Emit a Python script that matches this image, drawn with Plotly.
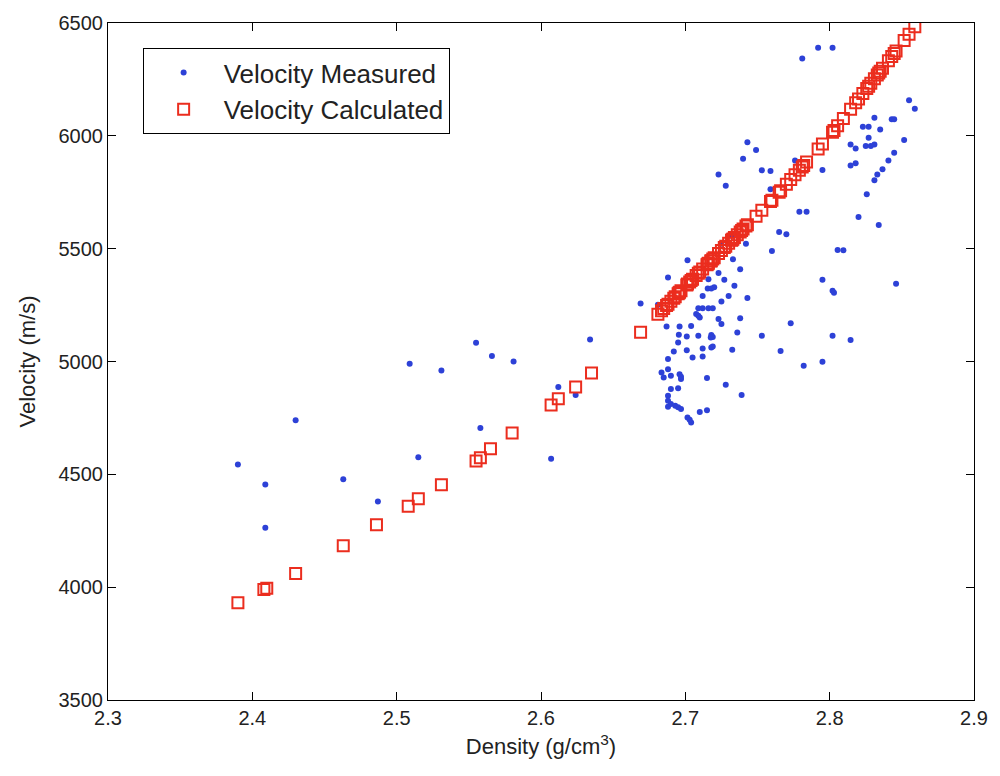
import plotly.graph_objects as go

# ---- data ----
density_measured = [
    2.390, 2.409, 2.409, 2.430, 2.463, 2.487, 2.509, 2.515, 2.531, 2.555,
    2.558, 2.566, 2.581, 2.607, 2.612, 2.624, 2.634,
    2.669, 2.681, 2.709, 2.712, 2.716, 2.719, 2.725, 2.7075, 2.710, 2.709,
    2.723, 2.725, 2.738, 2.687, 2.696, 2.704, 2.6955, 2.701, 2.709, 2.718,
    2.719, 2.7176, 2.736, 2.695, 2.718, 2.719, 2.712, 2.692, 2.701, 2.7325,
    2.712, 2.705, 2.688, 2.6835, 2.685, 2.688, 2.690, 2.696, 2.697, 2.697,
    2.715, 2.728, 2.690, 2.695, 2.688, 2.739, 2.688, 2.688, 2.690, 2.693,
    2.695, 2.697, 2.710, 2.715, 2.7015, 2.704, 2.703,
    2.734, 2.730, 2.743, 2.712, 2.773, 2.753, 2.766, 2.782,
    2.7015, 2.725, 2.732, 2.742, 2.760, 2.765, 2.770, 2.733, 2.738, 2.723,
    2.727, 2.716, 2.7155, 2.718, 2.720, 2.688,
    2.743, 2.749, 2.740, 2.723, 2.728, 2.753, 2.759, 2.759, 2.776, 2.779, 2.784,
    2.781, 2.792, 2.802, 2.855, 2.859, 2.831, 2.843, 2.8447, 2.823, 2.827,
    2.835, 2.827, 2.8145, 2.818, 2.825, 2.8285, 2.831, 2.8516, 2.8447, 2.8407,
    2.8145, 2.818, 2.8366, 2.795, 2.833, 2.831, 2.8257, 2.820,
    2.834, 2.8055, 2.8095, 2.795, 2.802, 2.803, 2.846, 2.802, 2.8145, 2.795,
]
velocity_measured = [
    4544, 4455, 4263, 4740, 4478, 4380, 4990, 4576, 4960, 5083,
    4705, 5024, 5000, 4569, 4887, 4851, 5098,
    5257, 5251, 5236, 5236, 5236, 5236, 5266, 5211, 5195, 5203,
    5188, 5166, 5192, 5155, 5155, 5157, 5118, 5111, 5114, 5117,
    5109, 5106, 5128, 5084, 5062, 5066, 5058, 5044, 5050, 5052,
    5022, 5018, 5011, 4951, 4929, 4966, 4937, 4944, 4922, 4932,
    4927, 4897, 4878, 4882, 4848, 4851, 4826, 4800, 4812, 4804,
    4797, 4789, 4776, 4784, 4752, 4730, 4742,
    5336, 5290, 5281, 5290, 5170, 5114, 5047, 4981,
    5449, 5522, 5558, 5522, 5490, 5574, 5564, 5453, 5409, 5392,
    5362, 5365, 5323, 5323, 5329, 5372,
    5972, 5937, 5898, 5829, 5779, 5847, 5844, 5763, 5891, 5664, 5664,
    6343, 6390, 6390, 6158, 6120, 6080, 6073, 6073, 6040, 6040,
    6028, 5991, 5962, 5944, 5955, 5955, 5962, 5981, 5925, 5891,
    5869, 5878, 5852, 5849, 5829, 5803, 5741, 5640,
    5605, 5494, 5493, 5362, 5313, 5305, 5345, 5114, 5095, 4999,
]

density_calculated = [
    2.390, 2.408, 2.410, 2.430, 2.463, 2.486, 2.508, 2.515, 2.531, 2.555,
    2.558, 2.565, 2.580, 2.607, 2.612, 2.624, 2.635, 2.669,
    2.681, 2.6835, 2.685, 2.687, 2.688, 2.690, 2.692, 2.693, 2.695, 2.6955,
    2.696, 2.697, 2.701, 2.7015, 2.703, 2.704, 2.705, 2.7075, 2.709, 2.710,
    2.712, 2.715, 2.7155, 2.716, 2.7176, 2.718, 2.719, 2.720, 2.723, 2.725,
    2.727, 2.728, 2.730, 2.732, 2.7325, 2.733, 2.734, 2.736, 2.738, 2.739,
    2.740, 2.742, 2.743, 2.749, 2.753, 2.759, 2.760, 2.765, 2.766, 2.770,
    2.773, 2.776, 2.779, 2.781, 2.782, 2.784, 2.792, 2.795, 2.802, 2.803,
    2.8055, 2.8095, 2.8145, 2.818, 2.820, 2.823, 2.8257, 2.827, 2.8285, 2.831,
    2.833, 2.834, 2.835, 2.8366, 2.8407, 2.843, 2.8447, 2.846, 2.8516, 2.855,
    2.859,
]
velocity_calculated = [
    3931, 3990, 3995, 4061, 4184, 4277, 4359, 4392, 4454, 4559,
    4573, 4613, 4683, 4807, 4835, 4887, 4949, 5130,
    5209, 5225, 5235, 5248, 5254, 5267, 5280, 5287, 5300, 5303,
    5307, 5313, 5339, 5343, 5352, 5359, 5365, 5381, 5391, 5397,
    5410, 5429, 5432, 5435, 5445, 5447, 5454, 5460, 5479, 5492,
    5505, 5511, 5524, 5537, 5540, 5543, 5549, 5562, 5574, 5581,
    5587, 5600, 5606, 5644, 5670, 5709, 5715, 5750, 5757, 5785,
    5806, 5827, 5848, 5862, 5869, 5884, 5942, 5964, 6016, 6024,
    6045, 6077, 6118, 6147, 6163, 6188, 6210, 6220, 6233, 6253,
    6270, 6278, 6286, 6299, 6333, 6352, 6365, 6376, 6422, 6450,
    6483,
]

x_ticks = [2.3, 2.4, 2.5, 2.6, 2.7, 2.8, 2.9]
x_tick_labels = ["2.3", "2.4", "2.5", "2.6", "2.7", "2.8", "2.9"]
y_ticks = [3500, 4000, 4500, 5000, 5500, 6000, 6500]
y_tick_labels = ["3500", "4000", "4500", "5000", "5500", "6000", "6500"]

FONT = "Liberation Sans, Arial, Helvetica, sans-serif"

fig = go.Figure()
fig.add_trace(go.Scatter(
    x=density_measured, y=velocity_measured, mode="markers",
    name="Velocity Measured",
    marker=dict(symbol="circle", size=6, color="rgb(45,65,215)", line=dict(width=0)),
))
fig.add_trace(go.Scatter(
    x=density_calculated, y=velocity_calculated, mode="markers",
    name="Velocity Calculated",
    marker=dict(symbol="square-open", size=11, color="rgb(235,45,30)",
                line=dict(width=2, color="rgb(235,45,30)")),
))

axis_common = dict(
    showgrid=False, zeroline=False, showline=True, linecolor="black", linewidth=1,
    mirror="allticks", ticks="inside", ticklen=8, tickwidth=1, tickcolor="black",
    tickfont=dict(family=FONT, size=20, color="#222"),
)
fig.update_xaxes(
    range=[2.3, 2.9], tickvals=x_ticks, ticktext=x_tick_labels,
    title=dict(text="Density (g/cm<sup>3</sup>)", font=dict(family=FONT, size=22, color="#222"), standoff=10),
    **axis_common,
)
fig.update_yaxes(
    range=[3500, 6500], tickvals=y_ticks, ticktext=y_tick_labels,
    title=dict(text="Velocity (m/s)", font=dict(family=FONT, size=22, color="#222"), standoff=16),
    **axis_common,
)
fig.update_layout(
    width=1000, height=776,
    margin=dict(l=108, r=23, t=22, b=76),
    plot_bgcolor="white", paper_bgcolor="white",
    font=dict(family=FONT, color="#222"),
    legend=dict(
        x=0.040, y=0.963, xanchor="left", yanchor="top",
        bordercolor="black", borderwidth=1, bgcolor="white",
        font=dict(family=FONT, size=26, color="#222"),
        itemwidth=70, tracegroupgap=0,
    ),
    showlegend=True,
)
fig.write_html("out.html")
